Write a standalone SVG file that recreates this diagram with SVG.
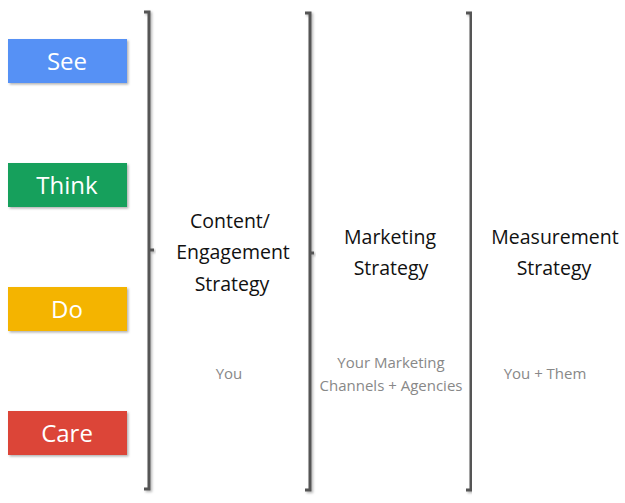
<svg xmlns="http://www.w3.org/2000/svg" width="625" height="503" viewBox="0 0 625 503">
<defs>
<filter id="sh" x="-10%" y="-10%" width="130%" height="130%">
<feDropShadow dx="1.5" dy="1.5" stdDeviation="1.2" flood-color="#000" flood-opacity="0.3"/>
</filter>
<style>
.box{filter:url(#sh)}
.bl{font-family:"Open Sans","Liberation Sans",sans-serif;font-size:24px;fill:#fff;text-anchor:middle}
.br{fill:none;stroke:#555;stroke-width:3;filter:url(#sh)}
.h{font-family:"Open Sans","Liberation Sans",sans-serif;font-size:19.5px;fill:#111;text-anchor:middle}
.s{font-family:"Open Sans","Liberation Sans",sans-serif;font-size:15px;fill:#888;text-anchor:middle}
</style>
</defs>
<rect width="625" height="503" fill="#fff"/>
<g id="see"><rect class="box" x="8" y="39" width="119" height="44" fill="#5691f5"/><text class="bl" x="67" y="70">See</text></g>
<g id="think"><rect class="box" x="8" y="163" width="119" height="44" fill="#13a05b"/><text class="bl" x="67" y="194">Think</text></g>
<g id="do"><rect class="box" x="8" y="287" width="119" height="44" fill="#f4b400"/><text class="bl" x="67" y="318">Do</text></g>
<g id="care"><rect class="box" x="8" y="411" width="119" height="44" fill="#dc4437"/><text class="bl" x="67" y="442">Care</text></g>
<g id="connectors">
<path class="br" d="M144,12 H149 V489 H144 M149,250 H154"/>
<path class="br" d="M305,13 H310 V490 H305 M310,253 H314"/>
<path class="br" d="M466,13 H471 V490 H466"/>
</g>
<g id="content"><text class="h" x="230" y="228">Content/</text><text class="h" x="233" y="259">Engagement</text><text class="h" x="232" y="291">Strategy</text></g>
<g id="marketing"><text class="h" x="390" y="244">Marketing</text><text class="h" x="391" y="275">Strategy</text></g>
<g id="measurement"><text class="h" x="555" y="244">Measurement</text><text class="h" x="554" y="275">Strategy</text></g>
<g id="you"><text class="s" x="229" y="379">You</text></g>
<g id="channels"><text class="s" x="391" y="368">Your Marketing</text><text class="s" x="391" y="391">Channels + Agencies</text></g>
<g id="them"><text class="s" x="545" y="379">You + Them</text></g>
</svg>
